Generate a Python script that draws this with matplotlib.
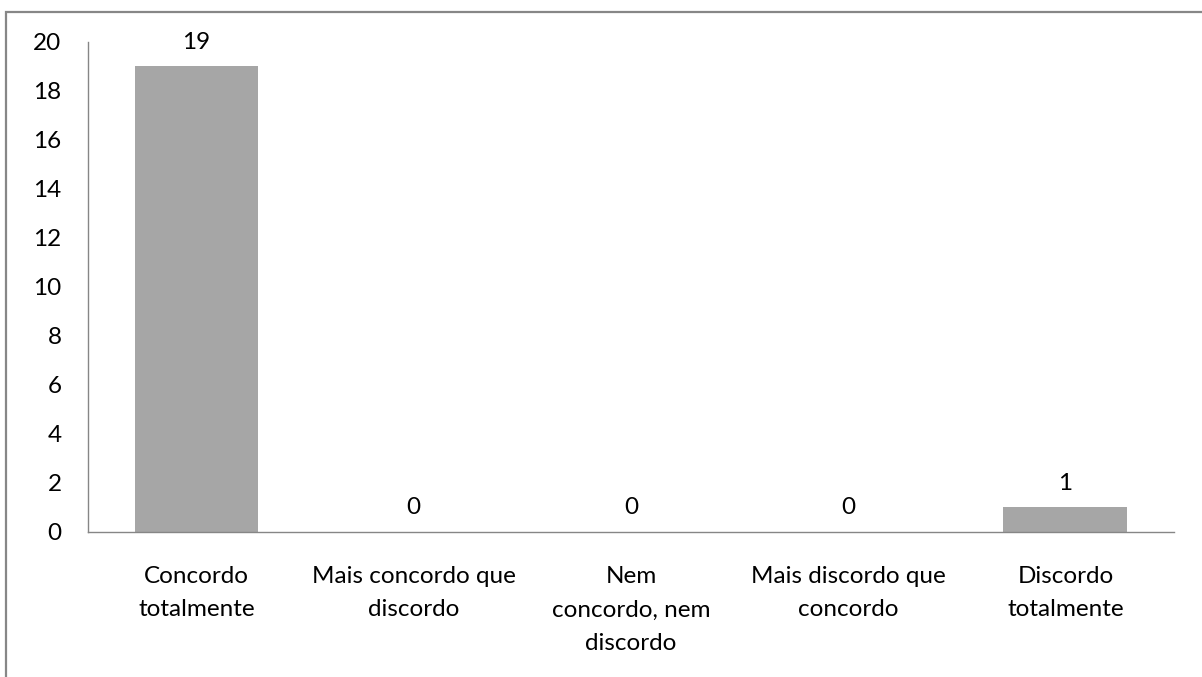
import matplotlib
matplotlib.use("Agg")
import matplotlib.pyplot as plt
from matplotlib.patches import Rectangle

categories = ["Concordo\ntotalmente", "Mais concordo que\ndiscordo",
              "Nem\nconcordo, nem\ndiscordo", "Mais discordo que\nconcordo",
              "Discordo\ntotalmente"]
values = [19, 0, 0, 0, 1]
yticks = [0, 2, 4, 6, 8, 10, 12, 14, 16, 18, 20]

plt.rcParams['font.family'] = ['Lato', 'DejaVu Sans']
fs = 17.5

fig = plt.figure(figsize=(12.02, 6.77), dpi=100)
ax = fig.add_axes([0.0732, 0.2142, 0.9035, 0.7238])

# outer frame of the chart area (runs off the right and bottom edge)
fig.patches.append(Rectangle((6 / 1202, -0.05), 1.2, 1 - 12 / 677 + 0.05,
                             transform=fig.transFigure, fill=False,
                             edgecolor="#878787", linewidth=1.6))

x = range(len(categories))
bars = ax.bar(x, values, width=0.57, color="#A6A6A6")
for xi, v in zip(x, values):
    ax.annotate(str(v), (xi, v), xytext=(0, 17.5), textcoords="offset points",
                ha="center", va="center", fontsize=fs, color="black")

ax.set_xlim(-0.5, len(categories) - 0.5)
ax.set_ylim(0, 20)
ax.set_yticks(yticks)
ax.set_xticks(list(x))
ax.set_xticklabels(categories, fontsize=fs, linespacing=1.73)
ax.tick_params(axis="y", length=0, pad=19, labelsize=fs)
ax.tick_params(axis="x", length=0, pad=24.5)

for s in ["top", "right"]:
    ax.spines[s].set_visible(False)
for s in ["left", "bottom"]:
    ax.spines[s].set_color("#868686")
    ax.spines[s].set_linewidth(1.0)

fig.savefig("out.png", dpi=100)
